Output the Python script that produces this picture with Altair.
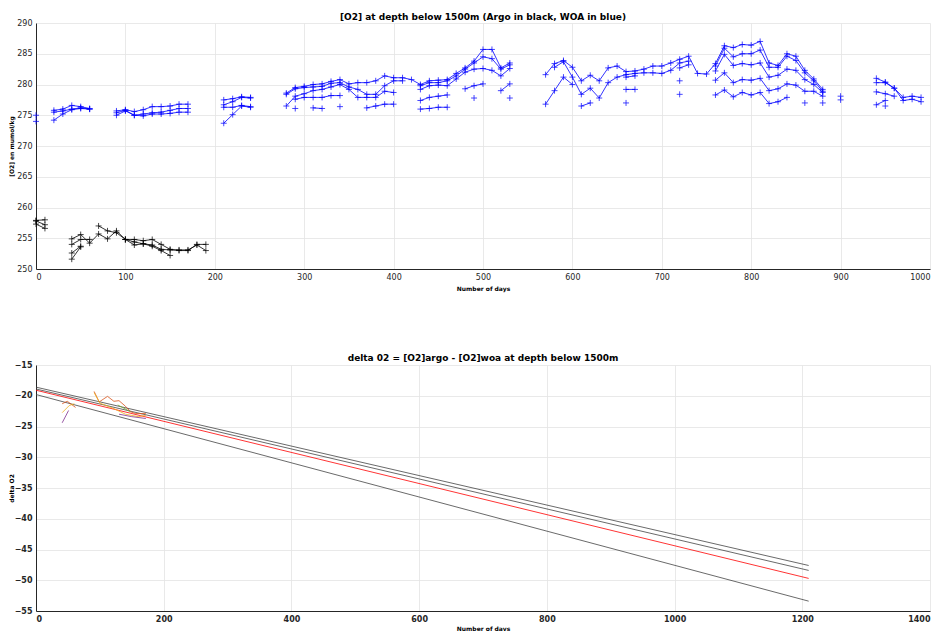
import altair as alt
import pandas as pd

N = None

# ---------------- top panel data ----------------
days = list(range(0, 1000, 10))

woa_1 = [275.0, N, 275.8, 276.0, 276.6, 276.4, 276.1, N, N, 275.7,
         275.9, 275.6, 275.9, 276.4, 276.4, 276.5, 276.8, 276.8, N, N,
         N, 277.5, 277.7, 278.0, 277.9, N, N, N, 278.6, 279.5,
         279.7, 280.0, 280.1, 280.5, 280.8, 280.1, 280.3, 280.3, 280.6, 281.4,
         281.1, 281.1, 280.8, 280.0, 280.6, 280.7, 280.8, 281.8, 282.7, 283.8,
         285.7, 285.7, 282.7, 283.5, N, N, N, 281.6, 283.4, 283.9,
         282.8, 280.6, 281.5, 280.6, 282.7, 283.0, 282.1, 282.2, 282.5, 283.0,
         283.0, 283.5, 284.1, 284.6, 281.8, 281.7, 283.4, 286.3, 286.0, 286.5,
         286.4, 287.0, 283.5, 283.1, 285.0, 284.6, 282.3, 280.9, 279.2, N,
         278.1, N, N, N, 281.0, 280.4, 279.4, 277.9, 278.1, 277.9]

woa_2 = [274.0, N, 275.5, 275.7, 276.0, 276.2, 276.0, N, N, 275.4,
         275.8, 275.0, 275.2, 275.4, 275.5, 275.8, 276.1, 276.1, N, N,
         N, 276.7, 277.2, 277.9, 277.8, N, N, N, 278.4, 279.3,
         279.5, 279.6, 279.7, 280.2, 280.3, 279.6, 279.2, 278.4, 278.4, 279.8,
         280.6, 280.6, N, 279.8, 280.3, 280.3, 280.6, 281.4, 282.5, 283.5,
         284.5, 284.2, 282.5, 283.2, N, N, N, N, 282.8, 283.7,
         281.2, 278.4, 279.4, 277.8, 280.3, 281.2, 281.6, 281.8, 281.9, 281.9,
         281.8, 282.3, 283.5, 283.8, N, N, 283.0, 285.9, 284.5, 285.0,
         285.0, 285.6, 282.8, 282.8, 284.6, 283.9, 281.9, 280.6, 278.9, N,
         277.5, N, N, N, 280.3, 280.3, 279.4, 277.4, 277.6, 277.2]

woa_3 = [N, N, 274.2, 275.2, 275.9, 276.1, 276.0, N, N, 275.0,
         275.7, 275.0, 274.9, 275.2, 275.2, 275.3, 275.5, 275.5, N, N,
         N, 276.3, 276.3, 276.6, 276.4, N, N, N, 276.5, 278.1,
         278.5, 279.0, 279.2, 279.6, 280.0, 279.2, 277.9, 277.9, 277.9, 278.9,
         278.7, N, N, 279.2, 279.8, 279.9, 279.8, 280.9, 282.0, 282.5,
         282.6, 282.3, 281.4, 282.6, N, N, N, N, N, N,
         N, N, N, N, N, N, 281.2, 281.4, N, N,
         N, N, 282.7, 283.2, N, N, 282.2, 284.9, 283.1, 283.4,
         283.2, 283.5, 281.2, 281.5, 282.5, 282.3, 280.8, 280.0, 278.7, N,
         N, N, N, N, 278.8, 278.5, 278.1, N, N, N]

woa_4 = [N, N, N, N, N, N, N, N, N, N,
         N, N, N, N, N, N, N, N, N, N,
         N, 273.7, 275.1, 276.5, 276.3, N, N, N, N, 277.6,
         277.9, 277.9, 277.9, 278.2, 278.2, N, N, N, N, N,
         N, N, N, 277.4, 277.9, 278.1, 278.3, N, 279.3, 279.8,
         280.1, N, 279.0, 280.1, N, N, N, 276.8, 279.0, 281.2,
         280.0, N, N, N, N, N, 279.2, 279.2, N, N,
         N, N, 280.6, N, N, N, 280.7, 281.9, 280.3, 280.8,
         280.7, 281.0, 279.0, 279.3, 280.1, 279.9, 278.9, 278.9, 278.1, N,
         N, N, N, N, 276.7, 277.4, N, N, N, N]

woa_5 = [N, N, N, N, N, N, N, N, N, N,
         N, N, N, N, N, N, N, N, N, N,
         N, N, N, N, N, N, N, N, N, 276.1,
         N, 276.2, 276.1, N, 276.4, N, N, 276.2, 276.5, 276.8,
         276.8, N, N, 276.0, 276.1, 276.3, 276.3, N, N, 277.8,
         N, N, N, 277.8, N, N, N, N, N, N,
         N, 276.5, 277.0, N, N, N, 277.0, N, N, N,
         N, N, 278.4, N, N, N, 278.3, 279.1, 278.0, 278.7,
         278.3, 278.7, 276.9, 277.2, 277.9, N, 277.0, N, 277.0, N,
         N, N, N, N, N, 276.5, N, N, N, N]

argo_days = list(range(0, 200, 10))
argo_1 = [257.9, 258.0, N, N, 254.9, 255.6, 254.2, 255.7, 254.9, 256.2,
          254.8, 253.9, 254.1, 253.9, 253.2, 253.1, 253.1, 253.1, 253.9, 253.0]
argo_2 = [257.8, 257.2, N, N, 254.0, 254.8, 254.8, N, N, N,
          N, N, N, N, N, N, N, N, N, N]
argo_3 = [257.3, 256.6, N, N, 252.6, 253.7, N, N, N, N,
          254.8, 254.8, 254.6, 254.8, 254.0, 253.2, 253.0, 253.0, 254.0, 254.0]
argo_4 = [N, N, N, N, 251.6, 253.6, N, N, N, N,
          N, N, N, N, N, N, N, N, N, N]
argo_5 = [N, N, N, N, N, N, N, 257.0, 256.2, 255.9,
          254.8, 254.4, 254.1, 253.7, 253.0, 252.2, N, N, N, N]

# ---------------- bottom panel data ----------------
fit_days = [0, 1210]
fit_black_1 = [-18.6, -47.6]
fit_black_2 = [-18.9, -48.4]
fit_black_3 = [-19.8, -53.4]
fit_red = [-19.1, -49.7]

d_orange_a_days = [41, 49, 62]
d_orange_a = [-21.3, -20.9, -21.9]
d_yellow_a_days = [41, 52, 60]
d_yellow_a = [-22.75, -21.6, -21.3]
d_purple_a_days = [41, 51]
d_purple_a = [-24.4, -22.4]
d_orange_b_days = [91, 99, 112, 122, 130, 140, 148, 156, 172]
d_orange_b = [-19.3, -21.0, -20.1, -20.9, -20.8, -21.7, -22.6, -22.9, -22.9]
d_yellow_b_days = [91, 100, 120, 140, 160, 172]
d_yellow_b = [-19.5, -21.2, -22.0, -23.0, -23.4, -23.2]
d_green_b_days = [128, 148]
d_green_b = [-21.5, -22.6]
d_purple_b_days = [130, 150, 172]
d_purple_b = [-23.0, -23.4, -23.7]

PLUS = "M-1,0L1,0M0,-1L0,1"
FONT = "DejaVu Sans"


def build(xs, series, group):
    rows = []
    for name, vals in series.items():
        seg = 0
        gap = True
        for d, v in zip(xs, vals):
            if v is None:
                gap = True
                continue
            if gap:
                seg += 1
                gap = False
            rows.append({"day": d, "value": v, "group": group,
                         "seg": f"{group}-{name}-{seg}"})
    return rows


top_rows = build(days, {"1": woa_1, "2": woa_2, "3": woa_3, "4": woa_4, "5": woa_5}, "WOA")
top_rows += build(argo_days, {"1": argo_1, "2": argo_2, "3": argo_3, "4": argo_4, "5": argo_5}, "Argo")
top_df = pd.DataFrame(top_rows)

color_top = alt.Color("group:N", scale=alt.Scale(domain=["WOA", "Argo"], range=["#0000ff", "#000000"]),
                      legend=None)
x_top = alt.X("day:Q", scale=alt.Scale(domain=[0, 1000], nice=False),
              axis=alt.Axis(values=list(range(0, 1001, 100)), title="Number of days", format="d",
                            labelFontWeight="normal", titlePadding=4))
y_top = alt.Y("value:Q", scale=alt.Scale(domain=[250, 290], nice=False, zero=False),
              axis=alt.Axis(values=list(range(250, 291, 5)), title="[O2] en mumol/kg", format="d",
                            labelFontWeight="normal"))

base_top = alt.Chart(top_df).encode(x=x_top, y=y_top, color=color_top)
top_lines = base_top.mark_line(strokeWidth=0.8).encode(detail="seg:N")
top_pts = base_top.mark_point(shape=PLUS, size=36, filled=False, strokeWidth=0.8, opacity=0.9)
top = alt.layer(top_lines, top_pts).properties(
    width=894, height=246,
    title=alt.TitleParams("[O2] at depth below 1500m (Argo in black, WOA in blue)",
                          font=FONT, fontSize=9, fontWeight="bold", offset=-3))

# bottom
bot_rows = []
for name, vals in [("fit1", fit_black_1), ("fit2", fit_black_2), ("fit3", fit_black_3), ("fitred", fit_red)]:
    for d, v in zip(fit_days, vals):
        bot_rows.append({"day": d, "value": v, "seg": name})
for name, xs, vals in [("orange_a", d_orange_a_days, d_orange_a), ("yellow_a", d_yellow_a_days, d_yellow_a),
                       ("purple_a", d_purple_a_days, d_purple_a), ("orange_b", d_orange_b_days, d_orange_b),
                       ("yellow_b", d_yellow_b_days, d_yellow_b), ("green_b", d_green_b_days, d_green_b),
                       ("purple_b", d_purple_b_days, d_purple_b)]:
    for d, v in zip(xs, vals):
        bot_rows.append({"day": d, "value": v, "seg": name})
bot_df = pd.DataFrame(bot_rows)

seg_domain = ["fit1", "fit2", "fit3", "fitred", "orange_a", "yellow_a", "purple_a",
              "orange_b", "yellow_b", "green_b", "purple_b"]
seg_range = ["#444444", "#444444", "#444444", "#ff0000", "#D95319", "#EDB120", "#7E2F8E",
             "#D95319", "#EDB120", "#77AC30", "#7E2F8E"]

bottom = alt.Chart(bot_df).mark_line(strokeWidth=0.8).encode(
    x=alt.X("day:Q", scale=alt.Scale(domain=[0, 1400], nice=False),
            axis=alt.Axis(values=list(range(0, 1401, 200)), title="Number of days", format="d",
                          labelFontWeight="bold", titlePadding=2)),
    y=alt.Y("value:Q", scale=alt.Scale(domain=[-55, -15], nice=False, zero=False),
            axis=alt.Axis(values=list(range(-55, -14, 5)), title="delta O2", format="d",
                          labelFontWeight="bold")),
    color=alt.Color("seg:N", scale=alt.Scale(domain=seg_domain, range=seg_range), legend=None),
    detail="seg:N",
).properties(
    width=894, height=246,
    title=alt.TitleParams("delta 02 = [O2]argo - [O2]woa at depth below 1500m",
                          font=FONT, fontSize=9, fontWeight="bold", offset=-2))

chart = alt.vconcat(top, bottom, spacing=63).resolve_scale(color="independent").properties(
    padding={"left": 0, "top": 5, "right": 0, "bottom": 0}
).configure_view(stroke=None).configure_axis(
    labelFont=FONT, titleFont=FONT, labelFontSize=8, titleFontSize=6, titleFontWeight="bold",
    labelColor="#262626", titleColor="#000000", domainColor="#262626", domainWidth=1,
    gridColor="#e3e3e3", gridWidth=0.8, tickSize=0, labelPadding=4,
).configure_axisY(minExtent=18, maxExtent=18, titlePadding=4)

chart.save("out.html", embed_options={"renderer": "svg", "actions": False})
